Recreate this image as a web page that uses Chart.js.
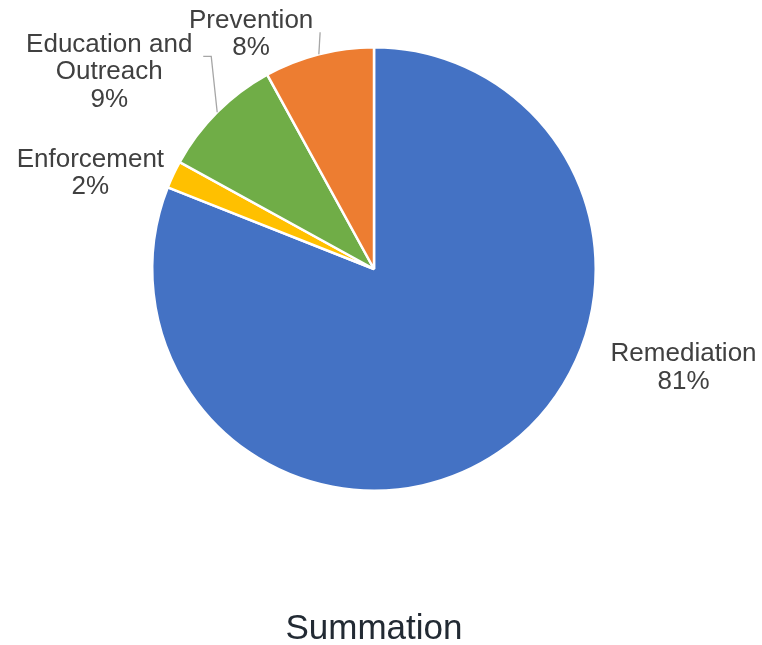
<!DOCTYPE html>
<html>
<head>
<meta charset="utf-8">
<script src="https://cdn.jsdelivr.net/npm/chart.js@4/dist/chart.umd.min.js"></script>
<style>
  html, body { margin: 0; padding: 0; background: #ffffff; }
  #wrap { width: 762px; height: 645px; }
</style>
</head>
<body>
<div id="wrap"><canvas id="c" width="762" height="645"></canvas></div>
<script>
// Budget shares by program area (percent)
const categories = ['Remediation', 'Enforcement', 'Education and Outreach', 'Prevention'];
const shares = [81, 2, 9, 8];
const sliceColors = ['#4472C4', '#FFC000', '#70AD47', '#ED7D31'];

// Label text lines for each slice
const labelLines = [
  ['Remediation', '81%'],
  ['Enforcement', '2%'],
  ['Education and', 'Outreach', '9%'],
  ['Prevention', '8%']
];

// Label centres, in units of the pie radius, relative to the pie centre
const labelPlacement = [
  [1.396, 0.446],
  [-1.279, -0.432],
  [-1.194, -0.887],
  [-0.554, -1.059]
];

// Leader lines: extra points after the slice's outer mid-point (radius units)
const leaderPaths = [
  null,
  null,
  [[-0.734, -0.959], [-0.770, -0.959]],
  [[-0.243, -1.068]]
];

const labelPlugin = {
  id: 'sliceLabels',
  afterDatasetsDraw(chart) {
    const ctx = chart.ctx;
    const meta = chart.getDatasetMeta(0);
    ctx.save();
    meta.data.forEach((arc, i) => {
      const { x, y, outerRadius, startAngle, endAngle } = arc.getProps(['x', 'y', 'outerRadius', 'startAngle', 'endAngle'], true);
      const r = outerRadius;
      const mid = (startAngle + endAngle) / 2;
      const path = leaderPaths[i];
      if (path) {
        ctx.beginPath();
        ctx.strokeStyle = '#a6a6a6';
        ctx.lineWidth = 1.3;
        ctx.moveTo(x + Math.cos(mid) * r, y + Math.sin(mid) * r);
        path.forEach(p => ctx.lineTo(x + p[0] * r, y + p[1] * r));
        ctx.stroke();
      }
      const lines = labelLines[i];
      const cx = x + labelPlacement[i][0] * r;
      const cy = y + labelPlacement[i][1] * r;
      const lh = 27.5;
      ctx.fillStyle = '#404040';
      ctx.font = '26px "Liberation Sans", Arial, Helvetica, sans-serif';
      ctx.textAlign = 'center';
      ctx.textBaseline = 'middle';
      const top = cy - (lines.length - 1) * lh / 2;
      lines.forEach((t, k) => ctx.fillText(t, cx, top + k * lh));
    });
    ctx.restore();
  }
};

new Chart(document.getElementById('c'), {
  type: 'pie',
  data: {
    labels: categories,
    datasets: [{
      data: shares,
      backgroundColor: sliceColors,
      borderColor: '#ffffff',
      borderWidth: 2.5
    }]
  },
  options: {
    responsive: false,
    animation: false,
    layout: { padding: { top: 46, left: 150, right: 164, bottom: 0 } },
    plugins: {
      legend: { display: false },
      tooltip: { enabled: false },
      title: {
        display: true,
        text: 'Summation',
        position: 'bottom',
        color: '#222a33',
        font: { family: '"Liberation Sans", Arial, Helvetica, sans-serif', size: 35, weight: 'normal', lineHeight: 1 },
        padding: { top: 120, bottom: -2 }
      }
    }
  },
  plugins: [labelPlugin]
});
</script>
</body>
</html>
